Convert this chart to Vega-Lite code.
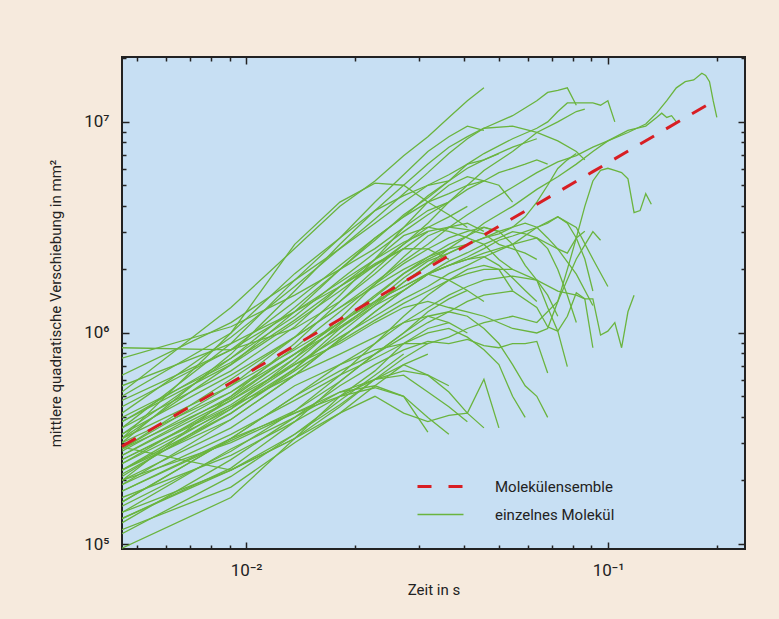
{
"$schema": "https://vega.github.io/schema/vega-lite/v6.json",
"width": 623, "height": 492,
"autosize": {"type": "none"},
"padding": {"left": 122, "top": 57, "right": 34, "bottom": 70},
"background": "#f6eadd",
"config": {
  "view": {"fill": "#c7dff3", "stroke": "#222222", "strokeWidth": 2},
  "font": "Roboto",
  "axis": {"labelFont": "Roboto", "titleFont": "Roboto", "labelColor": "#222222", "titleColor": "#222222", "titleFontWeight": "normal", "domain": false, "grid": false, "tickColor": "#222222", "tickWidth": 1.5, "labelOverlap": false},
  "legend": {"labelFont": "Roboto", "labelColor": "#222222"}
},
"datasets": {
"e": [
{"t":0.00454,"y":2.9e5},{"t":0.00908,"y":5.81e5},{"t":0.0227,"y":1.45e6},{"t":0.0454,"y":2.91e6},{"t":0.0908,"y":5.81e6},{"t":0.1998,"y":1.28e7}
],
"m": [
{"i":1,"t":0.00454,"y":5.25e5},{"i":1,"t":0.00908,"y":1.32e6},{"i":1,"t":0.01362,"y":2.51e6},{"i":1,"t":0.01816,"y":3.98e6},{"i":1,"t":0.0227,"y":5.25e6},{"i":1,"t":0.02724,"y":6.92e6},{"i":1,"t":0.03178,"y":8.51e6},{"i":1,"t":0.03632,"y":1.05e7},{"i":1,"t":0.04086,"y":1.26e7},{"i":1,"t":0.0454,"y":1.45e7},
{"i":2,"t":0.00454,"y":3.55e5},{"i":2,"t":0.00908,"y":8.91e5},{"i":2,"t":0.01362,"y":1.78e6},{"i":2,"t":0.01816,"y":2.82e6},{"i":2,"t":0.0227,"y":4.17e6},{"i":2,"t":0.02724,"y":5.62e6},{"i":2,"t":0.03178,"y":7.24e6},{"i":2,"t":0.03632,"y":8.51e6},{"i":2,"t":0.04086,"y":9.55e6},{"i":2,"t":0.0454,"y":9.12e6},
{"i":3,"t":0.00454,"y":3.16e5},{"i":3,"t":0.00908,"y":1e6},{"i":3,"t":0.01362,"y":2.63e6},{"i":3,"t":0.01816,"y":4.17e6},{"i":3,"t":0.0227,"y":5.13e6},{"i":3,"t":0.02724,"y":5.01e6},{"i":3,"t":0.03178,"y":4.17e6},{"i":3,"t":0.03632,"y":3.63e6},{"i":3,"t":0.04086,"y":3.16e6},
{"i":4,"t":0.00454,"y":2.82e5},{"i":4,"t":0.00908,"y":6.03e5},{"i":4,"t":0.01362,"y":9.55e5},{"i":4,"t":0.01816,"y":1.32e6},{"i":4,"t":0.0227,"y":1.74e6},{"i":4,"t":0.02724,"y":2.19e6},{"i":4,"t":0.03178,"y":2.63e6},{"i":4,"t":0.03632,"y":3.16e6},{"i":4,"t":0.04086,"y":3.63e6},{"i":4,"t":0.0454,"y":4.07e6},{"i":4,"t":0.05448,"y":4.9e6},{"i":4,"t":0.06356,"y":5.75e6},{"i":4,"t":0.07264,"y":6.46e6},{"i":4,"t":0.08172,"y":6.92e6},{"i":4,"t":0.0908,"y":7.59e6},{"i":4,"t":0.09988,"y":8.13e6},{"i":4,"t":0.1135,"y":8.91e6},{"i":4,"t":0.1271,"y":9.77e6},{"i":4,"t":0.1362,"y":1.1e7},{"i":4,"t":0.1453,"y":1.26e7},{"i":4,"t":0.1544,"y":1.45e7},{"i":4,"t":0.1634,"y":1.55e7},{"i":4,"t":0.1725,"y":1.58e7},{"i":4,"t":0.1816,"y":1.7e7},{"i":4,"t":0.1861,"y":1.66e7},{"i":4,"t":0.1907,"y":1.55e7},{"i":4,"t":0.1952,"y":1.26e7},{"i":4,"t":0.1998,"y":1.05e7},
{"i":5,"t":0.00454,"y":2.4e5},{"i":5,"t":0.00908,"y":4.79e5},{"i":5,"t":0.01362,"y":7.59e5},{"i":5,"t":0.01816,"y":1.07e6},{"i":5,"t":0.0227,"y":1.38e6},{"i":5,"t":0.02724,"y":1.74e6},{"i":5,"t":0.03178,"y":2.09e6},{"i":5,"t":0.03632,"y":2.51e6},{"i":5,"t":0.04086,"y":2.88e6},{"i":5,"t":0.0454,"y":3.31e6},{"i":5,"t":0.05448,"y":3.98e6},{"i":5,"t":0.06356,"y":4.79e6},{"i":5,"t":0.07264,"y":5.5e6},{"i":5,"t":0.08172,"y":6.31e6},{"i":5,"t":0.0908,"y":7.24e6},{"i":5,"t":0.09988,"y":8.13e6},{"i":5,"t":0.1135,"y":9.12e6},{"i":5,"t":0.1271,"y":9.55e6},{"i":5,"t":0.1362,"y":1.05e7},{"i":5,"t":0.1407,"y":1.1e7},{"i":5,"t":0.1453,"y":1.05e7},{"i":5,"t":0.1498,"y":1.07e7},{"i":5,"t":0.1544,"y":1e7},
{"i":6,"t":0.00454,"y":3.16e5},{"i":6,"t":0.00908,"y":7.08e5},{"i":6,"t":0.01362,"y":1.26e6},{"i":6,"t":0.01816,"y":2e6},{"i":6,"t":0.0227,"y":2.82e6},{"i":6,"t":0.02724,"y":3.55e6},{"i":6,"t":0.03178,"y":4.47e6},{"i":6,"t":0.03632,"y":5.25e6},{"i":6,"t":0.04086,"y":6.31e6},{"i":6,"t":0.0454,"y":7.08e6},{"i":6,"t":0.05448,"y":8.32e6},{"i":6,"t":0.06356,"y":9.33e6},{"i":6,"t":0.0681,"y":1e7},{"i":6,"t":0.07264,"y":1.12e7},{"i":6,"t":0.07718,"y":1.23e7},{"i":6,"t":0.08172,"y":1.23e7},{"i":6,"t":0.0908,"y":1.23e7},{"i":6,"t":0.09534,"y":1.2e7},{"i":6,"t":0.09988,"y":1.26e7},{"i":6,"t":0.1044,"y":1e7},
{"i":7,"t":0.00454,"y":4.17e5},{"i":7,"t":0.00908,"y":9.55e5},{"i":7,"t":0.01362,"y":1.66e6},{"i":7,"t":0.01816,"y":2.51e6},{"i":7,"t":0.0227,"y":3.47e6},{"i":7,"t":0.02724,"y":4.57e6},{"i":7,"t":0.03178,"y":5.75e6},{"i":7,"t":0.03632,"y":7.08e6},{"i":7,"t":0.04086,"y":8.32e6},{"i":7,"t":0.0454,"y":9.33e6},{"i":7,"t":0.05448,"y":1.07e7},{"i":7,"t":0.06356,"y":1.26e7},{"i":7,"t":0.0681,"y":1.38e7},{"i":7,"t":0.07264,"y":1.41e7},{"i":7,"t":0.07718,"y":1.45e7},{"i":7,"t":0.08172,"y":1.2e7},
{"i":8,"t":0.00454,"y":2e5},{"i":8,"t":0.00908,"y":5.01e5},{"i":8,"t":0.01362,"y":8.91e5},{"i":8,"t":0.01816,"y":1.41e6},{"i":8,"t":0.0227,"y":2e6},{"i":8,"t":0.02724,"y":2.63e6},{"i":8,"t":0.03178,"y":3.31e6},{"i":8,"t":0.03632,"y":4.17e6},{"i":8,"t":0.04086,"y":5.01e6},{"i":8,"t":0.0454,"y":5.89e6},{"i":8,"t":0.05448,"y":7.24e6},{"i":8,"t":0.06356,"y":8.91e6},{"i":8,"t":0.07264,"y":1e7},{"i":8,"t":0.08172,"y":1.12e7},{"i":8,"t":0.08626,"y":1.15e7},
{"i":9,"t":0.00454,"y":3.02e5},{"i":9,"t":0.00908,"y":7.94e5},{"i":9,"t":0.01362,"y":1.58e6},{"i":9,"t":0.01816,"y":2.63e6},{"i":9,"t":0.0227,"y":3.8e6},{"i":9,"t":0.02724,"y":5.01e6},{"i":9,"t":0.03178,"y":6.31e6},{"i":9,"t":0.03632,"y":7.59e6},{"i":9,"t":0.04086,"y":8.51e6},{"i":9,"t":0.0454,"y":9.33e6},{"i":9,"t":0.05448,"y":9.55e6},{"i":9,"t":0.06356,"y":8.91e6},{"i":9,"t":0.07264,"y":8.13e6},{"i":9,"t":0.08172,"y":7.24e6},{"i":9,"t":0.08626,"y":6.61e6},
{"i":10,"t":0.00454,"y":2.24e5},{"i":10,"t":0.00908,"y":4.47e5},{"i":10,"t":0.01362,"y":7.08e5},{"i":10,"t":0.01816,"y":8.91e5},{"i":10,"t":0.0227,"y":1.12e6},{"i":10,"t":0.02724,"y":1.32e6},{"i":10,"t":0.03178,"y":1.41e6},{"i":10,"t":0.03632,"y":1.32e6},{"i":10,"t":0.04086,"y":1.26e6},{"i":10,"t":0.0454,"y":1.2e6},{"i":10,"t":0.05448,"y":1.05e6},{"i":10,"t":0.06356,"y":1e6},{"i":10,"t":0.0681,"y":1.05e6},{"i":10,"t":0.07264,"y":1.41e6},{"i":10,"t":0.07718,"y":2e6},{"i":10,"t":0.08172,"y":2.82e6},{"i":10,"t":0.08626,"y":3.98e6},{"i":10,"t":0.0908,"y":5.25e6},{"i":10,"t":0.09534,"y":5.89e6},{"i":10,"t":0.09988,"y":6.03e6},{"i":10,"t":0.1044,"y":5.89e6},{"i":10,"t":0.109,"y":5.75e6},{"i":10,"t":0.1135,"y":5.37e6},{"i":10,"t":0.118,"y":3.72e6},{"i":10,"t":0.1226,"y":3.8e6},{"i":10,"t":0.1271,"y":4.57e6},{"i":10,"t":0.1317,"y":4.07e6},
{"i":11,"t":0.00454,"y":1.58e5},{"i":11,"t":0.00908,"y":3.16e5},{"i":11,"t":0.01362,"y":5.01e5},{"i":11,"t":0.01816,"y":6.61e5},{"i":11,"t":0.0227,"y":7.94e5},{"i":11,"t":0.02724,"y":9.55e5},{"i":11,"t":0.03178,"y":1.12e6},{"i":11,"t":0.03632,"y":1.26e6},{"i":11,"t":0.04086,"y":1.41e6},{"i":11,"t":0.0454,"y":1.51e6},{"i":11,"t":0.05448,"y":1.58e6},{"i":11,"t":0.06356,"y":1.32e6},{"i":11,"t":0.0681,"y":1.07e6},{"i":11,"t":0.07264,"y":1.02e6},{"i":11,"t":0.07718,"y":1.2e6},{"i":11,"t":0.08172,"y":1.55e6},{"i":11,"t":0.08626,"y":1.45e6},{"i":11,"t":0.0908,"y":1.45e6},{"i":11,"t":0.09534,"y":9.77e5},{"i":11,"t":0.09988,"y":1.02e6},{"i":11,"t":0.1044,"y":1.12e6},{"i":11,"t":0.109,"y":8.51e5},{"i":11,"t":0.1135,"y":1.26e6},{"i":11,"t":0.118,"y":1.51e6},
{"i":12,"t":0.00454,"y":2e5},{"i":12,"t":0.00908,"y":3.55e5},{"i":12,"t":0.01362,"y":5.62e5},{"i":12,"t":0.01816,"y":7.08e5},{"i":12,"t":0.0227,"y":8.32e5},{"i":12,"t":0.02724,"y":8.91e5},{"i":12,"t":0.03178,"y":8.91e5},{"i":12,"t":0.03632,"y":9.55e5},{"i":12,"t":0.04086,"y":1.05e6},{"i":12,"t":0.0454,"y":1.12e6},{"i":12,"t":0.05448,"y":1.2e6},{"i":12,"t":0.06356,"y":1.12e6},{"i":12,"t":0.07264,"y":1.41e6},{"i":12,"t":0.08172,"y":2.24e6},{"i":12,"t":0.0908,"y":3.02e6},{"i":12,"t":0.09534,"y":2.75e6},
{"i":13,"t":0.00454,"y":1.32e5},{"i":13,"t":0.00908,"y":2.24e5},{"i":13,"t":0.01362,"y":3.16e5},{"i":13,"t":0.01816,"y":4.17e5},{"i":13,"t":0.0227,"y":5.01e5},{"i":13,"t":0.02724,"y":4.17e5},{"i":13,"t":0.03178,"y":3.8e5},{"i":13,"t":0.03632,"y":4.07e5},{"i":13,"t":0.04086,"y":4.17e5},{"i":13,"t":0.0454,"y":6.03e5},{"i":13,"t":0.04994,"y":3.55e5},
{"i":14,"t":0.00454,"y":1.41e5},{"i":14,"t":0.00908,"y":2.82e5},{"i":14,"t":0.01362,"y":3.98e5},{"i":14,"t":0.01816,"y":5.25e5},{"i":14,"t":0.0227,"y":5.62e5},{"i":14,"t":0.02724,"y":5.01e5},{"i":14,"t":0.03178,"y":3.39e5},
{"i":15,"t":0.00454,"y":1.26e5},{"i":15,"t":0.00908,"y":2.51e5},{"i":15,"t":0.01362,"y":3.98e5},{"i":15,"t":0.01816,"y":5.62e5},{"i":15,"t":0.0227,"y":7.08e5},{"i":15,"t":0.02724,"y":8.32e5},{"i":15,"t":0.03178,"y":9.12e5},{"i":15,"t":0.03632,"y":8.91e5},{"i":15,"t":0.04086,"y":9.33e5},{"i":15,"t":0.0454,"y":8.71e5},{"i":15,"t":0.04994,"y":8.51e5},{"i":15,"t":0.05448,"y":8.91e5},{"i":15,"t":0.05902,"y":8.91e5},{"i":15,"t":0.06356,"y":9.12e5},{"i":15,"t":0.0681,"y":6.46e5},
{"i":16,"t":0.00454,"y":1.58e5},{"i":16,"t":0.00908,"y":3.16e5},{"i":16,"t":0.01362,"y":5.01e5},{"i":16,"t":0.01816,"y":7.08e5},{"i":16,"t":0.0227,"y":8.91e5},{"i":16,"t":0.02724,"y":1.12e6},{"i":16,"t":0.03178,"y":1.32e6},{"i":16,"t":0.03632,"y":1.51e6},{"i":16,"t":0.04086,"y":1.66e6},{"i":16,"t":0.0454,"y":1.78e6},{"i":16,"t":0.05448,"y":1.86e6},{"i":16,"t":0.06356,"y":1.78e6},{"i":16,"t":0.0681,"y":1.32e6},{"i":16,"t":0.07264,"y":1.02e6},{"i":16,"t":0.07718,"y":6.92e5},
{"i":17,"t":0.00454,"y":2.24e5},{"i":17,"t":0.00908,"y":4.17e5},{"i":17,"t":0.01362,"y":6.61e5},{"i":17,"t":0.01816,"y":9.12e5},{"i":17,"t":0.0227,"y":1.15e6},{"i":17,"t":0.02724,"y":1.38e6},{"i":17,"t":0.03178,"y":1.58e6},{"i":17,"t":0.03632,"y":1.78e6},{"i":17,"t":0.04086,"y":1.91e6},{"i":17,"t":0.0454,"y":2e6},{"i":17,"t":0.05448,"y":2e6},{"i":17,"t":0.06356,"y":1.78e6},{"i":17,"t":0.07264,"y":1.58e6},{"i":17,"t":0.08172,"y":1.51e6},{"i":17,"t":0.08626,"y":1.45e6},{"i":17,"t":0.0908,"y":8.51e5},
{"i":18,"t":0.00454,"y":9.55e4},{"i":18,"t":0.00908,"y":1.66e5},{"i":18,"t":0.01362,"y":3.16e5},{"i":18,"t":0.01816,"y":5.01e5},{"i":18,"t":0.0227,"y":6.61e5},{"i":18,"t":0.02724,"y":8.91e5},{"i":18,"t":0.03178,"y":1.05e6},{"i":18,"t":0.03632,"y":1.12e6},
{"i":19,"t":0.00454,"y":1.17e5},{"i":19,"t":0.00908,"y":1.86e5},{"i":19,"t":0.01362,"y":3.02e5},{"i":19,"t":0.01816,"y":4.17e5},{"i":19,"t":0.0227,"y":5.62e5},{"i":19,"t":0.02724,"y":7.08e5},{"i":19,"t":0.03178,"y":7.94e5},
{"i":20,"t":0.00454,"y":2.88e5},{"i":20,"t":0.00908,"y":2.24e5},{"i":20,"t":0.01362,"y":3.16e5},{"i":20,"t":0.01816,"y":4.47e5},{"i":20,"t":0.0227,"y":6.03e5},{"i":20,"t":0.02724,"y":7.08e5},{"i":20,"t":0.03178,"y":6.31e5},{"i":20,"t":0.03632,"y":5.62e5},
{"i":21,"t":0.00454,"y":8.51e5},{"i":21,"t":0.00908,"y":8.32e5},{"i":21,"t":0.01362,"y":1.05e6},{"i":21,"t":0.01816,"y":1.41e6},{"i":21,"t":0.0227,"y":1.91e6},{"i":21,"t":0.02724,"y":2.51e6},{"i":21,"t":0.03178,"y":3.02e6},
{"i":22,"t":0.00454,"y":7.59e5},{"i":22,"t":0.00908,"y":1.07e6},{"i":22,"t":0.01362,"y":1.51e6},{"i":22,"t":0.01816,"y":2e6},{"i":22,"t":0.0227,"y":2.51e6},{"i":22,"t":0.02724,"y":3.16e6},{"i":22,"t":0.03178,"y":3.8e6},{"i":22,"t":0.03632,"y":4.17e6},
{"i":23,"t":0.00454,"y":1.41e5},{"i":23,"t":0.00908,"y":2.24e5},{"i":23,"t":0.01362,"y":3.31e5},{"i":23,"t":0.01816,"y":4.79e5},{"i":23,"t":0.0227,"y":6.31e5},{"i":23,"t":0.02724,"y":7.94e5},
{"i":24,"t":0.00454,"y":1.78e5},{"i":24,"t":0.00908,"y":3.09e5},{"i":24,"t":0.01362,"y":4.27e5},{"i":24,"t":0.01816,"y":5.89e5},{"i":24,"t":0.0227,"y":7.94e5},{"i":24,"t":0.02724,"y":1e6},{"i":24,"t":0.03178,"y":1.2e6},{"i":24,"t":0.03632,"y":1.12e6},{"i":24,"t":0.04086,"y":1e6},
{"i":25,"t":0.00454,"y":2.09e5},{"i":25,"t":0.00908,"y":4.36e5},{"i":25,"t":0.01362,"y":7.58e5},{"i":25,"t":0.01816,"y":1.17e6},{"i":25,"t":0.0227,"y":1.7e6},{"i":25,"t":0.02724,"y":2.29e6},{"i":25,"t":0.03178,"y":2.88e6},{"i":25,"t":0.03632,"y":3.17e6},{"i":25,"t":0.04086,"y":3.31e6},{"i":25,"t":0.0454,"y":3.03e6},
{"i":26,"t":0.00454,"y":2.51e5},{"i":26,"t":0.00908,"y":4.57e5},{"i":26,"t":0.01362,"y":7.25e5},{"i":26,"t":0.01816,"y":1.1e6},{"i":26,"t":0.0227,"y":1.48e6},{"i":26,"t":0.02724,"y":1.91e6},{"i":26,"t":0.03178,"y":2.23e6},{"i":26,"t":0.03632,"y":2.5e6},{"i":26,"t":0.04086,"y":2.63e6},
{"i":27,"t":0.00454,"y":2.63e5},{"i":27,"t":0.00908,"y":5.01e5},{"i":27,"t":0.01362,"y":7.94e5},{"i":27,"t":0.01816,"y":1.12e6},{"i":27,"t":0.0227,"y":1.51e6},{"i":27,"t":0.02724,"y":1.91e6},{"i":27,"t":0.03178,"y":2.29e6},{"i":27,"t":0.03632,"y":2.63e6},{"i":27,"t":0.04086,"y":2.88e6},{"i":27,"t":0.0454,"y":3.16e6},{"i":27,"t":0.04994,"y":3.02e6},
{"i":28,"t":0.00454,"y":2.82e5},{"i":28,"t":0.00908,"y":4.9e5},{"i":28,"t":0.01362,"y":7.95e5},{"i":28,"t":0.01816,"y":1.05e6},{"i":28,"t":0.0227,"y":1.35e6},{"i":28,"t":0.02724,"y":1.59e6},{"i":28,"t":0.03178,"y":1.9e6},{"i":28,"t":0.03632,"y":1.78e6},{"i":28,"t":0.04086,"y":1.59e6},{"i":28,"t":0.0454,"y":1.41e6},
{"i":29,"t":0.00454,"y":3.31e5},{"i":29,"t":0.00908,"y":6.31e5},{"i":29,"t":0.01362,"y":9.55e5},{"i":29,"t":0.01816,"y":1.32e6},{"i":29,"t":0.0227,"y":1.66e6},{"i":29,"t":0.02724,"y":2e6},{"i":29,"t":0.03178,"y":2.29e6},{"i":29,"t":0.03632,"y":2.51e6},
{"i":30,"t":0.00454,"y":3.55e5},{"i":30,"t":0.00908,"y":6.61e5},{"i":30,"t":0.01362,"y":1.07e6},{"i":30,"t":0.01816,"y":1.66e6},{"i":30,"t":0.0227,"y":2.23e6},{"i":30,"t":0.02724,"y":2.89e6},{"i":30,"t":0.03178,"y":3.17e6},{"i":30,"t":0.03632,"y":3.03e6},{"i":30,"t":0.04086,"y":2.82e6},{"i":30,"t":0.0454,"y":2.63e6},{"i":30,"t":0.04994,"y":2.23e6},{"i":30,"t":0.05448,"y":2e6},
{"i":31,"t":0.00454,"y":3.8e5},{"i":31,"t":0.00908,"y":7.08e5},{"i":31,"t":0.01362,"y":1.12e6},{"i":31,"t":0.01816,"y":1.58e6},{"i":31,"t":0.0227,"y":2.09e6},{"i":31,"t":0.02724,"y":2.63e6},{"i":31,"t":0.03178,"y":3.16e6},{"i":31,"t":0.03632,"y":3.55e6},{"i":31,"t":0.04086,"y":3.98e6},
{"i":32,"t":0.00454,"y":3.98e5},{"i":32,"t":0.00908,"y":7.24e5},{"i":32,"t":0.01362,"y":1.15e6},{"i":32,"t":0.01816,"y":1.66e6},{"i":32,"t":0.0227,"y":2.13e6},{"i":32,"t":0.02724,"y":2.51e6},{"i":32,"t":0.03178,"y":2.5e6},{"i":32,"t":0.03632,"y":2.23e6},
{"i":33,"t":0.00454,"y":4.47e5},{"i":33,"t":0.00908,"y":8.32e5},{"i":33,"t":0.01362,"y":1.41e6},{"i":33,"t":0.01816,"y":2.09e6},{"i":33,"t":0.0227,"y":2.82e6},{"i":33,"t":0.02724,"y":3.55e6},{"i":33,"t":0.03178,"y":4.17e6},{"i":33,"t":0.03632,"y":4.57e6},{"i":33,"t":0.04086,"y":5.01e6},{"i":33,"t":0.0454,"y":5.25e6},
{"i":34,"t":0.00454,"y":4.79e5},{"i":34,"t":0.00908,"y":8.32e5},{"i":34,"t":0.01362,"y":1.26e6},{"i":34,"t":0.01816,"y":1.74e6},{"i":34,"t":0.0227,"y":2.23e6},{"i":34,"t":0.02724,"y":2.69e6},{"i":34,"t":0.03178,"y":3.03e6},{"i":34,"t":0.03632,"y":3.17e6},{"i":34,"t":0.04086,"y":3.09e6},{"i":34,"t":0.0454,"y":2.95e6},{"i":34,"t":0.04994,"y":2.63e6},{"i":34,"t":0.05448,"y":2.5e6},{"i":34,"t":0.05902,"y":2.39e6},{"i":34,"t":0.06356,"y":2.23e6},
{"i":35,"t":0.00454,"y":5.01e5},{"i":35,"t":0.00908,"y":1e6},{"i":35,"t":0.01362,"y":1.91e6},{"i":35,"t":0.01816,"y":2.82e6},{"i":35,"t":0.0227,"y":3.8e6},{"i":35,"t":0.02724,"y":4.47e6},{"i":35,"t":0.03178,"y":5.01e6},{"i":35,"t":0.03632,"y":5.25e6},
{"i":36,"t":0.00454,"y":5.62e5},{"i":36,"t":0.00908,"y":8.91e5},{"i":36,"t":0.01362,"y":1.26e6},{"i":36,"t":0.01816,"y":1.66e6},{"i":36,"t":0.0227,"y":2.09e6},{"i":36,"t":0.02724,"y":2.51e6},
{"i":37,"t":0.00454,"y":6.31e5},{"i":37,"t":0.00908,"y":1.12e6},{"i":37,"t":0.01362,"y":1.78e6},{"i":37,"t":0.01816,"y":2.51e6},{"i":37,"t":0.0227,"y":3.31e6},{"i":37,"t":0.02724,"y":4.17e6},{"i":37,"t":0.03178,"y":5.01e6},{"i":37,"t":0.03632,"y":5.62e6},{"i":37,"t":0.04086,"y":6.31e6},{"i":37,"t":0.0454,"y":6.61e6},{"i":37,"t":0.04994,"y":7.08e6},
{"i":38,"t":0.00454,"y":2.24e5},{"i":38,"t":0.00908,"y":3.89e5},{"i":38,"t":0.01362,"y":6.31e5},{"i":38,"t":0.01816,"y":9.33e5},{"i":38,"t":0.0227,"y":1.26e6},{"i":38,"t":0.02724,"y":1.59e6},{"i":38,"t":0.03178,"y":1.9e6},{"i":38,"t":0.03632,"y":2.09e6},{"i":38,"t":0.04086,"y":2.23e6},{"i":38,"t":0.0454,"y":2.3e6},{"i":38,"t":0.04994,"y":2.09e6},{"i":38,"t":0.05448,"y":1.82e6},{"i":38,"t":0.05902,"y":1.59e6},{"i":38,"t":0.06356,"y":1.41e6},
{"i":39,"t":0.00454,"y":1.91e5},{"i":39,"t":0.00908,"y":3.31e5},{"i":39,"t":0.01362,"y":4.79e5},{"i":39,"t":0.01816,"y":6.31e5},{"i":39,"t":0.0227,"y":7.59e5},{"i":39,"t":0.02724,"y":8.91e5},{"i":39,"t":0.03178,"y":1e6},{"i":39,"t":0.03632,"y":1.05e6},{"i":39,"t":0.04086,"y":9.55e5},{"i":39,"t":0.0454,"y":8.32e5},{"i":39,"t":0.04994,"y":7.08e5},{"i":39,"t":0.05448,"y":5.01e5},{"i":39,"t":0.05902,"y":3.98e5},
{"i":40,"t":0.00454,"y":1.66e5},{"i":40,"t":0.00908,"y":2.63e5},{"i":40,"t":0.01362,"y":3.8e5},{"i":40,"t":0.01816,"y":5.01e5},{"i":40,"t":0.0227,"y":6.03e5},{"i":40,"t":0.02724,"y":6.61e5},{"i":40,"t":0.03178,"y":6.31e5},{"i":40,"t":0.03632,"y":5.25e5},{"i":40,"t":0.04086,"y":4.17e5},{"i":40,"t":0.0454,"y":3.55e5},
{"i":41,"t":0.00454,"y":1.51e5},{"i":41,"t":0.00908,"y":2.75e5},{"i":41,"t":0.01362,"y":4.27e5},{"i":41,"t":0.01816,"y":6.31e5},{"i":41,"t":0.0227,"y":8.92e5},{"i":41,"t":0.02724,"y":1.2e6},{"i":41,"t":0.03178,"y":1.51e6},{"i":41,"t":0.03632,"y":1.78e6},{"i":41,"t":0.04086,"y":2e6},{"i":41,"t":0.0454,"y":2.09e6},{"i":41,"t":0.04994,"y":2e6},{"i":41,"t":0.05448,"y":1.59e6},
{"i":42,"t":0.00454,"y":1.32e5},{"i":42,"t":0.00908,"y":2.29e5},{"i":42,"t":0.01362,"y":3.8e5},{"i":42,"t":0.01816,"y":5.89e5},{"i":42,"t":0.0227,"y":7.94e5},{"i":42,"t":0.02724,"y":1e6},{"i":42,"t":0.03178,"y":1.26e6},{"i":42,"t":0.03632,"y":1.45e6},{"i":42,"t":0.04086,"y":1.59e6},
{"i":43,"t":0.00454,"y":1.12e5},{"i":43,"t":0.00908,"y":2.09e5},{"i":43,"t":0.01362,"y":3.31e5},{"i":43,"t":0.01816,"y":4.57e5},{"i":43,"t":0.0227,"y":6.03e5},{"i":43,"t":0.02724,"y":7.59e5},{"i":43,"t":0.03178,"y":8.91e5},
{"i":44,"t":0.00454,"y":2.4e5},{"i":44,"t":0.00908,"y":4.36e5},{"i":44,"t":0.01362,"y":6.76e5},{"i":44,"t":0.01816,"y":1e6},{"i":44,"t":0.0227,"y":1.35e6},{"i":44,"t":0.02724,"y":1.74e6},{"i":44,"t":0.03178,"y":2.09e6},{"i":44,"t":0.03632,"y":2.39e6},{"i":44,"t":0.04086,"y":2.63e6},{"i":44,"t":0.0454,"y":2.82e6},{"i":44,"t":0.04994,"y":3.03e6},{"i":44,"t":0.05448,"y":3.17e6},{"i":44,"t":0.05902,"y":3.31e6},{"i":44,"t":0.06356,"y":3.17e6},{"i":44,"t":0.0681,"y":2.82e6},{"i":44,"t":0.07264,"y":2.5e6},{"i":44,"t":0.07718,"y":2.39e6},{"i":44,"t":0.08172,"y":2.82e6},{"i":44,"t":0.08626,"y":3.03e6},
{"i":45,"t":0.00454,"y":3.02e5},{"i":45,"t":0.00908,"y":5.25e5},{"i":45,"t":0.01362,"y":7.94e5},{"i":45,"t":0.01816,"y":1.12e6},{"i":45,"t":0.0227,"y":1.41e6},{"i":45,"t":0.02724,"y":1.66e6},{"i":45,"t":0.03178,"y":1.91e6},{"i":45,"t":0.03632,"y":2.19e6},{"i":45,"t":0.04086,"y":2.4e6},{"i":45,"t":0.0454,"y":2.63e6},{"i":45,"t":0.04994,"y":2.82e6},{"i":45,"t":0.05448,"y":3.02e6},{"i":45,"t":0.05902,"y":2.95e6},{"i":45,"t":0.06356,"y":2.82e6},{"i":45,"t":0.0681,"y":2.51e6},{"i":45,"t":0.07264,"y":2e6},{"i":45,"t":0.07718,"y":1.51e6},{"i":45,"t":0.08172,"y":1.12e6},
{"i":46,"t":0.00454,"y":2.75e5},{"i":46,"t":0.00908,"y":5.25e5},{"i":46,"t":0.01362,"y":8.51e5},{"i":46,"t":0.01816,"y":1.26e6},{"i":46,"t":0.0227,"y":1.7e6},{"i":46,"t":0.02724,"y":2.13e6},{"i":46,"t":0.03178,"y":2.5e6},{"i":46,"t":0.03632,"y":2.82e6},{"i":46,"t":0.04086,"y":3.03e6},{"i":46,"t":0.0454,"y":3.17e6},{"i":46,"t":0.04994,"y":3.03e6},{"i":46,"t":0.05448,"y":2.63e6},{"i":46,"t":0.05902,"y":2.09e6},{"i":46,"t":0.06356,"y":1.78e6},{"i":46,"t":0.0681,"y":1.51e6},{"i":46,"t":0.07264,"y":1.2e6},
{"i":47,"t":0.00454,"y":2.14e5},{"i":47,"t":0.00908,"y":4.16e5},{"i":47,"t":0.01362,"y":6.76e5},{"i":47,"t":0.01816,"y":1.05e6},{"i":47,"t":0.0227,"y":1.41e6},{"i":47,"t":0.02724,"y":1.82e6},{"i":47,"t":0.03178,"y":2.19e6},{"i":47,"t":0.03632,"y":2.39e6},{"i":47,"t":0.04086,"y":2.63e6},{"i":47,"t":0.0454,"y":2.82e6},{"i":47,"t":0.04994,"y":2.95e6},{"i":47,"t":0.05448,"y":3.17e6},{"i":47,"t":0.05902,"y":3.55e6},{"i":47,"t":0.06356,"y":4.17e6},{"i":47,"t":0.0681,"y":5.01e6},{"i":47,"t":0.07264,"y":6.02e6},{"i":47,"t":0.07718,"y":6.61e6},{"i":47,"t":0.08172,"y":7.08e6},
{"i":48,"t":0.00454,"y":3.8e5},{"i":48,"t":0.00908,"y":7.59e5},{"i":48,"t":0.01362,"y":1.2e6},{"i":48,"t":0.01816,"y":1.78e6},{"i":48,"t":0.0227,"y":2.4e6},{"i":48,"t":0.02724,"y":3.02e6},{"i":48,"t":0.03178,"y":3.63e6},{"i":48,"t":0.03632,"y":4.17e6},{"i":48,"t":0.04086,"y":4.79e6},{"i":48,"t":0.0454,"y":5.25e6},{"i":48,"t":0.04994,"y":5.75e6},{"i":48,"t":0.05448,"y":6.03e6},{"i":48,"t":0.05902,"y":6.31e6},{"i":48,"t":0.06356,"y":6.61e6},{"i":48,"t":0.0681,"y":6.31e6},
{"i":49,"t":0.00454,"y":3.16e5},{"i":49,"t":0.00908,"y":5.62e5},{"i":49,"t":0.01362,"y":8.32e5},{"i":49,"t":0.01816,"y":1.12e6},{"i":49,"t":0.0227,"y":1.41e6},{"i":49,"t":0.02724,"y":1.66e6},{"i":49,"t":0.03178,"y":1.91e6},{"i":49,"t":0.03632,"y":2.09e6},{"i":49,"t":0.04086,"y":2.29e6},{"i":49,"t":0.0454,"y":2.51e6},{"i":49,"t":0.04994,"y":2.75e6},{"i":49,"t":0.05448,"y":2.88e6},{"i":49,"t":0.05902,"y":3.02e6},{"i":49,"t":0.06356,"y":3.16e6},{"i":49,"t":0.0681,"y":3.31e6},{"i":49,"t":0.07264,"y":3.55e6},{"i":49,"t":0.07718,"y":3.31e6},{"i":49,"t":0.08172,"y":2.82e6},{"i":49,"t":0.08626,"y":2.24e6},{"i":49,"t":0.0908,"y":1.58e6},
{"i":50,"t":0.00454,"y":2.51e5},{"i":50,"t":0.00908,"y":4.47e5},{"i":50,"t":0.01362,"y":6.31e5},{"i":50,"t":0.01816,"y":7.94e5},{"i":50,"t":0.0227,"y":9.55e5},{"i":50,"t":0.02724,"y":1.12e6},{"i":50,"t":0.03178,"y":1.2e6},{"i":50,"t":0.03632,"y":1.26e6},{"i":50,"t":0.04086,"y":1.2e6},{"i":50,"t":0.0454,"y":1.05e6},{"i":50,"t":0.04994,"y":8.91e5},{"i":50,"t":0.05448,"y":7.08e5},{"i":50,"t":0.05902,"y":5.62e5},{"i":50,"t":0.06356,"y":5.01e5},{"i":50,"t":0.0681,"y":3.98e5},
{"i":51,"t":0.00454,"y":1.78e5},{"i":51,"t":0.00908,"y":3.16e5},{"i":51,"t":0.01362,"y":4.17e5},{"i":51,"t":0.01816,"y":5.25e5},{"i":51,"t":0.0227,"y":6.03e5},{"i":51,"t":0.02724,"y":6.31e5},{"i":51,"t":0.03178,"y":5.25e5},{"i":51,"t":0.03632,"y":4.47e5},{"i":51,"t":0.04086,"y":3.8e5},
{"i":52,"t":0.00454,"y":2e5},{"i":52,"t":0.00908,"y":3.02e5},{"i":52,"t":0.01362,"y":4.17e5},{"i":52,"t":0.01816,"y":5.01e5},{"i":52,"t":0.0227,"y":5.5e5},{"i":52,"t":0.02724,"y":5.01e5},{"i":52,"t":0.03178,"y":3.98e5},{"i":52,"t":0.03632,"y":3.31e5},
{"i":53,"t":0.00454,"y":2.63e5},{"i":53,"t":0.00908,"y":4.79e5},{"i":53,"t":0.01362,"y":7.08e5},{"i":53,"t":0.01816,"y":9.55e5},{"i":53,"t":0.0227,"y":1.2e6},{"i":53,"t":0.02724,"y":1.45e6},{"i":53,"t":0.03178,"y":1.66e6},{"i":53,"t":0.03632,"y":1.91e6},{"i":53,"t":0.04086,"y":2.09e6},{"i":53,"t":0.0454,"y":2.29e6},{"i":53,"t":0.05448,"y":2.63e6},{"i":53,"t":0.06356,"y":3.16e6},{"i":53,"t":0.07264,"y":3.55e6},{"i":53,"t":0.08172,"y":3.16e6},{"i":53,"t":0.0908,"y":2.24e6},{"i":53,"t":0.09988,"y":1.66e6},
{"i":54,"t":0.00454,"y":1.91e5},{"i":54,"t":0.00908,"y":3.89e5},{"i":54,"t":0.01362,"y":6.31e5},{"i":54,"t":0.01816,"y":9.33e5},{"i":54,"t":0.0227,"y":1.26e6},{"i":54,"t":0.02724,"y":1.59e6},{"i":54,"t":0.03178,"y":1.9e6},{"i":54,"t":0.03632,"y":2.09e6},{"i":54,"t":0.04086,"y":2.23e6},{"i":54,"t":0.0454,"y":2.39e6},{"i":54,"t":0.05448,"y":2.63e6},{"i":54,"t":0.06356,"y":2.82e6},{"i":54,"t":0.07264,"y":2.5e6},{"i":54,"t":0.08172,"y":1.9e6},{"i":54,"t":0.0908,"y":1.35e6},
{"i":55,"t":0.00454,"y":3.31e5},{"i":55,"t":0.00908,"y":7.59e5},{"i":55,"t":0.01362,"y":1.32e6},{"i":55,"t":0.01816,"y":2e6},{"i":55,"t":0.0227,"y":2.75e6},{"i":55,"t":0.02724,"y":3.63e6},{"i":55,"t":0.03178,"y":4.37e6},{"i":55,"t":0.03632,"y":5.25e6},{"i":55,"t":0.04086,"y":6.03e6},{"i":55,"t":0.0454,"y":6.61e6},{"i":55,"t":0.05448,"y":7.59e6},{"i":55,"t":0.06356,"y":8.32e6},
{"i":56,"t":0.00454,"y":2.82e5},{"i":56,"t":0.00908,"y":5.62e5},{"i":56,"t":0.01362,"y":9.55e5},{"i":56,"t":0.01816,"y":1.51e6},{"i":56,"t":0.0227,"y":2.24e6},{"i":56,"t":0.02724,"y":3.16e6},{"i":56,"t":0.03178,"y":4.17e6},{"i":56,"t":0.03632,"y":5.01e6},{"i":56,"t":0.04086,"y":5.5e6},{"i":56,"t":0.0454,"y":5.25e6},{"i":56,"t":0.04994,"y":5.01e6},{"i":56,"t":0.05448,"y":4.17e6}
]
},
"layer": [
{
  "data": {"name": "m"},
  "mark": {"type": "line", "strokeWidth": 1.3, "clip": true},
  "encoding": {
    "x": {"field": "t", "type": "quantitative", "scale": {"type": "log", "domain": [0.00454, 0.239], "nice": false},
      "axis": {"orient": "bottom", "values": [0.005,0.006,0.007,0.008,0.009,0.01,0.02,0.03,0.04,0.05,0.06,0.07,0.08,0.09,0.1,0.2],
        "labelExpr": "datum.value == 0.01 ? '10⁻²' : datum.value == 0.1 ? '10⁻¹' : ''",
        "tickSize": {"condition": {"test": "datum.value == 0.01 || datum.value == 0.1", "value": -7}, "value": -4},
        "labelFontSize": 17, "labelPadding": 20, "title": "Zeit in s", "titleFontSize": 15, "titlePadding": 1}},
    "y": {"field": "y", "type": "quantitative", "scale": {"type": "log", "domain": [94700, 20300000], "nice": false},
      "axis": {"orient": "left", "values": [100000,200000,300000,400000,500000,600000,700000,800000,900000,1000000,2000000,3000000,4000000,5000000,6000000,7000000,8000000,9000000,10000000,20000000],
        "labelExpr": "datum.value == 100000 ? '10⁵' : datum.value == 1000000 ? '10⁶' : datum.value == 10000000 ? '10⁷' : ''",
        "tickSize": {"condition": {"test": "datum.value == 100000 || datum.value == 1000000 || datum.value == 10000000", "value": -7}, "value": -4},
        "labelFontSize": 17, "labelPadding": 20, "title": "mittlere quadratische Verschiebung in mm²", "titleFontSize": 15, "titlePadding": 20}},
    "detail": {"field": "i", "type": "nominal"},
    "color": {"datum": "einzelnes Molekül", "type": "nominal",
      "scale": {"domain": ["Molekülensemble", "einzelnes Molekül"], "range": ["#d81e23", "#6ab43e"]},
      "legend": {"title": null, "orient": "none", "legendX": 311, "legendY": 422, "symbolType": "stroke", "symbolSize": 2116, "labelFontSize": 15, "labelOffset": 47, "rowPadding": 12, "padding": 0,
        "encode": {"symbols": {"update": {"strokeDash": {"signal": "datum.value === 'Molekülensemble' ? [14, 17] : [1, 0]"}, "strokeWidth": {"signal": "datum.value === 'Molekülensemble' ? 3 : 1.5"}}}}}}
  }
},
{
  "data": {"name": "e"},
  "mark": {"type": "line", "strokeWidth": 3, "strokeDash": [16, 14]},
  "encoding": {
    "x": {"field": "t", "type": "quantitative", "scale": {"type": "log", "domain": [0.00454, 0.239], "nice": false}, "axis": null},
    "y": {"field": "y", "type": "quantitative", "scale": {"type": "log", "domain": [94700, 20300000], "nice": false}, "axis": null},
    "color": {"datum": "Molekülensemble", "type": "nominal"}
  }
},
{
  "data": {"name": "e"},
  "mark": {"type": "point", "opacity": 0},
  "encoding": {
    "x": {"field": "t", "type": "quantitative", "scale": {"type": "log", "domain": [0.00454, 0.239], "nice": false},
      "axis": {"orient": "top", "values": [0.005,0.006,0.007,0.008,0.009,0.01,0.02,0.03,0.04,0.05,0.06,0.07,0.08,0.09,0.1,0.2], "labels": false, "title": null,
        "tickSize": {"condition": {"test": "datum.value == 0.01 || datum.value == 0.1", "value": -7}, "value": -4}}},
    "y": {"field": "y", "type": "quantitative", "scale": {"type": "log", "domain": [94700, 20300000], "nice": false},
      "axis": {"orient": "right", "values": [100000,200000,300000,400000,500000,600000,700000,800000,900000,1000000,2000000,3000000,4000000,5000000,6000000,7000000,8000000,9000000,10000000,20000000], "labels": false, "title": null,
        "tickSize": {"condition": {"test": "datum.value == 100000 || datum.value == 1000000 || datum.value == 10000000", "value": -7}, "value": -4}}}
  }
}
],
"resolve": {"axis": {"x": "independent", "y": "independent"}}
}
